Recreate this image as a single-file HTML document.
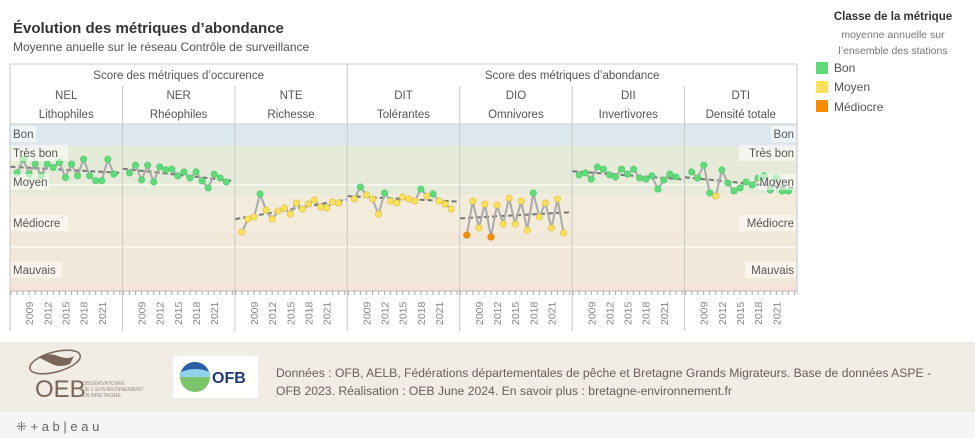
<!DOCTYPE html>
<html><head><meta charset="utf-8">
<style>
html,body{margin:0;padding:0;background:#fff;width:975px;height:438px;overflow:hidden;font-family:"Liberation Sans",sans-serif}
svg text{font-family:"Liberation Sans",sans-serif}
</style></head>
<body>
<svg width="975" height="438" viewBox="0 0 975 438" xmlns="http://www.w3.org/2000/svg">
<text x="13" y="33" font-size="15" font-weight="bold" fill="#333">Évolution des métriques d’abondance</text>
<text x="13" y="51" font-size="12" fill="#555">Moyenne anuelle sur le réseau Contrôle de surveillance</text>

<g>
<text x="893" y="20" font-size="11.5" font-weight="bold" fill="#333" text-anchor="middle">Classe de la métrique</text>
<text x="893" y="38" font-size="10.5" fill="#777" text-anchor="middle">moyenne annuelle sur</text>
<text x="893" y="54" font-size="10.5" fill="#777" text-anchor="middle">l’ensemble des stations</text>
<rect x="816" y="62" width="12" height="12" fill="#5fdb7a"/>
<text x="834" y="72" font-size="12" fill="#555">Bon</text>
<rect x="816" y="81" width="12" height="12" fill="#fde15a"/>
<text x="834" y="91" font-size="12" fill="#555">Moyen</text>
<rect x="816" y="100" width="12" height="12" fill="#fb8c00"/>
<text x="834" y="111" font-size="12" fill="#555">Médiocre</text>
</g>

<g id="plot"></g>

<g>
<rect x="0" y="342" width="975" height="70" fill="#f1ece4"/>
<g>
<ellipse cx="55" cy="362" rx="26" ry="10" fill="none" stroke="#7a6558" stroke-width="1.5" transform="rotate(-15 55 362)"/>
<path d="M40 358 q8 -6 18 -2 q10 4 16 0 l-4 8 q-10 4 -18 0 z" fill="#7a6558"/>
<text x="35" y="397" font-size="24" fill="#7a6558">OEB</text>
<text x="82" y="385" font-size="5.5" fill="#9a8a80">OBSERVATOIRE</text>
<text x="82" y="391" font-size="5.5" fill="#9a8a80">DE L'ENVIRONNEMENT</text>
<text x="82" y="397" font-size="5.5" fill="#9a8a80">EN BRETAGNE</text>
</g>
<g>
<rect x="173" y="356" width="85" height="42" fill="#fff"/>
<circle cx="195" cy="377" r="15" fill="#7cc46a"/>
<path d="M180 377 a15 15 0 0 1 30 0 z" fill="#2a5fa8"/>
<path d="M181 372 q14 -6 29 0 l0 5 l-30 0 z" fill="#8fd3ec"/>
<text x="212" y="383" font-size="16" font-weight="bold" fill="#1d3a7a">OFB</text>
</g>
<text x="276" y="377" font-size="12.2" fill="#6b5e56">Données : OFB, AELB, Fédérations départementales de pêche et Bretagne Grands Migrateurs. Base de données ASPE -</text>
<text x="276" y="395" font-size="12.2" fill="#6b5e56">OFB 2023. Réalisation : OEB June 2024. En savoir plus : bretagne-environnement.fr</text>
<rect x="0" y="412" width="975" height="26" fill="#f5f5f5"/>
<text x="16" y="431" font-size="13" fill="#666">⁜ + a b | e a u</text>
</g>
</svg>
<script>
const years = [2007,2008,2009,2010,2011,2012,2013,2014,2015,2016,2017,2018,2019,2020,2021,2022,2023];
const codes = ["NEL","NER","NTE","DIT","DIO","DII","DTI"];
const names = ["Lithophiles","Rhéophiles","Richesse","Tolérantes","Omnivores","Invertivores","Densité totale"];
const groups = ["Score des métriques d’occurence","Score des métriques d’abondance"];
const tickYears = [2009,2012,2015,2018,2021];
const sNEL = [70.7,79,70,76,69,76,74,77,68,76,69,79,69,66,66,79,70];
const sNER = [70.7,75.4,66.5,75.4,65.3,74.3,72.5,73,68.9,71.3,67.7,71.3,65.9,61.7,70,67.7,65.3];
const sNTE = [35.3,43.1,44.3,58.1,48.5,43.1,47.9,49.7,46.1,52.7,49.1,52.1,54.5,50.3,49.7,53.3,52.7];
const sDIT = [55.1,62.3,57.5,55.1,46.1,58.7,53.9,52.7,56.3,55.1,53.9,61.1,56.9,58.1,53.9,52.1,49.1];
const sDIO = [33.5,53.9,37.7,52.1,32.3,51.5,40.1,55.7,40.1,53.9,36.5,58.7,44.3,52.7,37.7,55.1,34.7];
const sDII = [69.5,70.7,67,74.3,73,69.5,68.3,73,70,73,67.7,67,68.9,61.1,66.5,70,68.3];
const sDTI = [71.3,67.7,75.4,58.7,56.9,72.5,64.7,59.9,61.7,65.3,63.5,67.7,68.9,60.5,67.7,59.9,59.9];
const series = [sNEL,sNER,sNTE,sDIT,sDIO,sDII,sDTI];

const NS="http://www.w3.org/2000/svg";
const plot=document.getElementById('plot');
const L=10,R=797,TOP=124,BOT=291,PW=(R-L)/7;
const yS=v=>BOT-v*(BOT-TOP)/100;
const xS=(p,yr)=>L+p*PW+1+(yr-2006)*6.05;
function el(t,a,parent){const e=document.createElementNS(NS,t);for(const k in a)e.setAttribute(k,a[k]);(parent||plot).appendChild(e);return e;}
function txt(x,y,s,a){const e=el('text',Object.assign({x:x,y:y},a));e.textContent=s;return e;}

const bands=[[100,86.8,'#dde8ee','band-bon'],[86.8,58,'#e6ead9','band-tres-bon-moyen'],[58,35,'#f3ebdc','band-mediocre-upper'],[35,3.6,'#f2e8da','band-mediocre-lower'],[3.6,0,'#f8e3dc','band-mauvais']];
bands.forEach(b=>{const r=el('rect',{x:L,y:yS(b[0]),width:R-L,height:yS(b[1])-yS(b[0]),fill:b[2]});

});
[63.5,26.3].forEach(v=>{const g=el('line',{x1:L,x2:R,y1:yS(v),y2:yS(v),stroke:'#fff','stroke-width':1.2});

});

el('line',{x1:L,x2:R,y1:64,y2:64,stroke:'#ccc'});
el('line',{x1:L,x2:R,y1:TOP,y2:TOP,stroke:'#ccc'});
groups.forEach((g,i)=>{const x=i==0?L+1.5*PW:L+5*PW;const t=txt(x,79,g,{'font-size':11.5,fill:'#555','text-anchor':'middle'});

});
codes.forEach((c,p)=>{const cx=L+(p+0.5)*PW;
const a=txt(cx,99,c,{'font-size':11.5,fill:'#555','text-anchor':'middle'});


const b=txt(cx,118,names[p],{'font-size':11.5,fill:'#555','text-anchor':'middle'});

});
for(let p=0;p<=7;p++){const x=L+p*PW;const top=(p==0||p==3||p==7)?64:86;
const s=el('line',{x1:x,x2:x,y1:top,y2:p==7?TOP+170:331,stroke:'#c8c8c8'});

}

el('line',{x1:L,x2:R,y1:BOT,y2:BOT,stroke:'#bbb'});
for(let p=0;p<7;p++){
 for(let yr=2006;yr<=2024;yr++){const x=xS(p,yr);if(x>L+p*PW+PW)continue;el('line',{x1:x,x2:x,y1:BOT,y2:BOT+4,stroke:'#aaa'});}
 tickYears.forEach(yr=>{const x=xS(p,yr)+4;const t=txt(x,325,String(yr),{'font-size':10.5,fill:'#888',transform:`rotate(-90 ${x} 325)`});
 
 });
}

const col=v=>v>=58?'#5fdb7a':(v>=34?'#fde15a':'#fb8c00');
const ecol=v=>v>=58?'#4cc867':(v>=34?'#d9bd3c':'#d97800');
series.forEach((s,p)=>{
 const n=years.length;let mx=0,my=0;years.forEach((y,i)=>{mx+=y;my+=s[i];});mx/=n;my/=n;
 let num=0,den=0;years.forEach((y,i)=>{num+=(y-mx)*(s[i]-my);den+=(y-mx)*(y-mx);});
 const sl=num/den,ic=my-sl*mx;
 const y0=2005.9,y1=2024.3;
 const tr=el('line',{x1:xS(p,y0),x2:xS(p,y1),y1:yS(ic+sl*y0),y2:yS(ic+sl*y1),stroke:'#777','stroke-width':2,'stroke-dasharray':'5,3'});
 
 
 const pl=el('polyline',{points:years.map((y,i)=>xS(p,y)+','+yS(s[i])).join(' '),fill:'none',stroke:'#aaa','stroke-width':2});
 
 
 years.forEach((y,i)=>{const c=el('circle',{cx:xS(p,y),cy:yS(s[i]),r:3.2,fill:col(s[i]),stroke:ecol(s[i]),'stroke-width':0.6});
 
 });
});

const lbl=[['Bon',137],['Très bon',156],['Moyen',185],['Médiocre',226],['Mauvais',273]];
lbl.forEach(l=>{
 const w=l[0].length*6.4+6;
 el('rect',{x:L+1,y:l[1]-11,width:w,height:16,fill:'#fff','fill-opacity':0.55});
 const a=txt(L+3,l[1]+1,l[0],{'font-size':11.5,fill:'#555'});
 
 
 el('rect',{x:R-w-1,y:l[1]-11,width:w,height:16,fill:'#fff','fill-opacity':0.55});
 const b=txt(R-3,l[1]+1,l[0],{'font-size':11.5,fill:'#555','text-anchor':'end'});
 
 
});
</script>
</body></html>
